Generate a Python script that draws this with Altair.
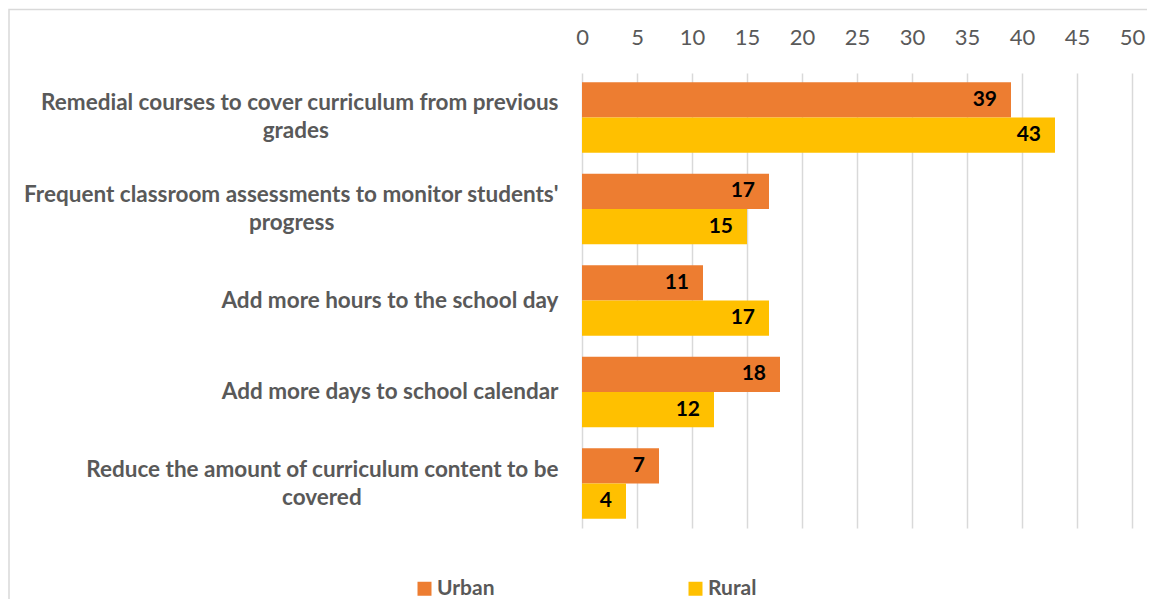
import altair as alt
import pandas as pd

# ---- data ----
label_line1 = [
    "Remedial courses to cover curriculum from previous",
    "Frequent classroom assessments to monitor students'",
    "Add more hours to the school day",
    "Add more days to school calendar",
    "Reduce the amount of curriculum content to be",
]
label_line2 = ["grades", "progress", "", "", "covered"]
series = ["Urban", "Rural"]
urban = [39, 17, 11, 18, 7]
rural = [43, 15, 17, 12, 4]
x_ticks = [0, 5, 10, 15, 20, 25, 30, 35, 40, 45, 50]
colors = ["#ED7D31", "#FFC000"]

LABEL_FS = 22.5
CHAR_W = 10.4      # approx. average glyph advance of the bold label font (px)
NBSP_W = 0.242 * LABEL_FS


def make_label(l1, l2):
    # the second line is centred under the first one (as in the reference):
    # pad it on the right with no-break spaces so the right-aligned block centres it
    if not l2:
        return l1
    pad_px = (len(l1) - len(l2)) * CHAR_W / 2
    n = round(pad_px / NBSP_W)
    return l1 + "\n" + l2 + "\u00a0" * n + "\u2060"


keys = [make_label(a, b) for a, b in zip(label_line1, label_line2)]

rows = []
for k, u, r in zip(keys, urban, rural):
    rows.append({"category": k, "series": series[0], "value": u})
    rows.append({"category": k, "series": series[1], "value": r})
df = pd.DataFrame(rows)

x_enc = alt.X(
    "value:Q",
    scale=alt.Scale(domain=[0, 50], nice=False),
    axis=alt.Axis(
        orient="top", values=x_ticks, title=None, grid=True,
        gridColor="#d9d9d9", gridWidth=1.5, domain=False, ticks=False,
        labelFont="Lato", labelFontSize=22, labelColor="#595959",
        labelPadding=24, labelFlush=False,
    ),
)
y_enc = alt.Y(
    "category:N", sort=keys,
    scale=alt.Scale(paddingInner=0.23, paddingOuter=0.1),
    axis=alt.Axis(
        title=None, domain=False, ticks=False,
        labelExpr="split(datum.label, '\\n')",
        labelAlign="right", labelPadding=24, labelFont="Lato",
        labelFontSize=LABEL_FS, labelFontWeight="bold", labelColor="#595959",
        labelLineHeight=28, labelLimit=1000,
        labelOffset={"condition": {"test": "indexof(datum.label, '\\n') >= 0",
                                   "value": -14},
                     "value": 0},
    ),
)
yoff_enc = alt.YOffset("series:N", sort=series,
                       scale=alt.Scale(paddingInner=0, paddingOuter=0))

base = alt.Chart(df)

bars = base.mark_bar().encode(
    x=x_enc, y=y_enc, yOffset=yoff_enc,
    color=alt.Color(
        "series:N", sort=series,
        scale=alt.Scale(domain=series, range=colors),
        legend=alt.Legend(
            title=None, orient="none", legendX=-168, legendY=505,
            direction="horizontal", symbolType="square", symbolSize=196,
            symbolStrokeWidth=0, labelFont="Lato", labelFontSize=21,
            labelFontWeight="bold", labelColor="#595959", labelOffset=2,
            columnPadding=190, padding=0,
        ),
    ),
)

labels = base.mark_text(
    align="right", baseline="middle", dx=-14, font="Lato", fontSize=21,
    fontWeight="bold", color="black",
).encode(
    x=alt.X("value:Q"), y=alt.Y("category:N", sort=keys),
    yOffset=yoff_enc, text=alt.Text("value:Q"),
)

border = alt.Chart(pd.DataFrame({"a": [0]})).mark_rect(
    fillOpacity=0, stroke="#d9d9d9", strokeWidth=1.5,
).encode(
    x=alt.value(-573), x2=alt.value(700), y=alt.value(-63.5), y2=alt.value(700),
)

chart = alt.layer(border, bars, labels).properties(
    width=550, height=455,
    autosize=alt.AutoSizeParams(type="none"),
    padding={"left": 574, "top": 65, "right": 15, "bottom": 71},
    background="white",
).configure_view(strokeWidth=0)

chart.save("out.html", embed_options={"renderer": "svg", "actions": False})
